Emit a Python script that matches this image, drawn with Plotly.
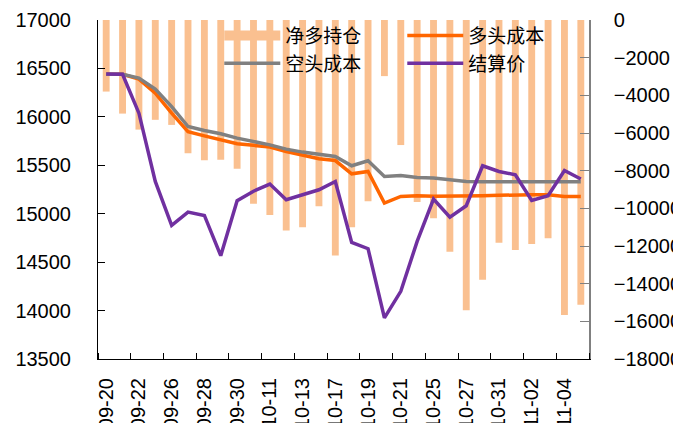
import plotly.graph_objects as go

dates = ["09-20", "09-21", "09-22", "09-23", "09-26", "09-27", "09-28", "09-29", "09-30", "10-10",
         "10-11", "10-12", "10-13", "10-14", "10-17", "10-18", "10-19", "10-20", "10-21", "10-24",
         "10-25", "10-26", "10-27", "10-28", "10-31", "11-01", "11-02", "11-03", "11-04", "11-07"]

net_long = [-3800, -4970, -5820, -5300, -5570, -7070, -7450, -7420, -7900, -9760,
            -10350, -11180, -11000, -9890, -12510, -11000, -9620, -2980, -6640, -9670,
            -10520, -12300, -15410, -13790, -11830, -12210, -11890, -11590, -15660, -15120]

long_cost = [16440, 16440, 16390, 16244, 16038, 15848, 15804, 15763, 15722, 15706,
             15688, 15642, 15601, 15567, 15549, 15412, 15436, 15110, 15178, 15185,
             15180, 15180, 15180, 15185, 15190, 15196, 15196, 15196, 15178, 15178]

short_cost = [16440, 16440, 16400, 16286, 16106, 15900, 15859, 15825, 15780, 15747,
              15711, 15667, 15636, 15615, 15591, 15495, 15546, 15384, 15395, 15374,
              15368, 15350, 15333, 15330, 15330, 15330, 15330, 15330, 15330, 15330]

settle = [16443, 16440, 16038, 15333, 14879, 15017, 14982, 14567, 15134, 15232,
          15306, 15144, 15196, 15247, 15333, 14704, 14639, 13925, 14199, 14714,
          15151, 14964, 15082, 15495, 15436, 15402, 15137, 15185, 15446, 15358]

idx = list(range(len(dates)))
tick_idx = idx[::2]
tick_text = dates[::2]

FONT = "Liberation Sans, Arial, sans-serif"
CJK = "Noto Sans CJK SC, sans-serif"
BAR_COLOR = "#FAC090"

fig = go.Figure()
# legend-only entry giving the wide rectangular swatch of the bar series
fig.add_trace(go.Scatter(x=[None], y=[None], name="净多持仓", mode="lines",
                         line=dict(color=BAR_COLOR, width=12), legendgroup="net",
                         hoverinfo="skip", yaxis="y"))
fig.add_trace(go.Bar(x=idx, y=net_long, name="净多持仓", marker_color=BAR_COLOR,
                     marker_line_width=0, yaxis="y", legendgroup="net", showlegend=False))
fig.add_trace(go.Scatter(x=idx, y=long_cost, name="多头成本", mode="lines",
                         line=dict(color="#FF6600", width=3.5), yaxis="y2"))
fig.add_trace(go.Scatter(x=idx, y=short_cost, name="空头成本", mode="lines",
                         line=dict(color="#808080", width=3.5), yaxis="y2"))
fig.add_trace(go.Scatter(x=idx, y=settle, name="结算价", mode="lines",
                         line=dict(color="#7030A0", width=3.5), yaxis="y2"))

# the page body adds an 8px offset, so the figure is 8px smaller and margins shifted
fig.update_layout(
    width=673, height=415,
    margin=dict(l=90, r=92, t=12, b=64, autoexpand=False),
    paper_bgcolor="white", plot_bgcolor="white",
    font=dict(family=FONT, size=20, color="black"),
    bargap=0.58,
    showlegend=True,
    legend=dict(orientation="h", x=0.247, xanchor="left", y=1.01, yanchor="top",
                bgcolor="rgba(0,0,0,0)", font=dict(family=CJK, size=19, color="black"),
                entrywidth=112, entrywidthmode="pixels", itemwidth=56,
                traceorder="normal", tracegroupgap=0),
    xaxis=dict(range=[-0.5, len(dates) - 0.5], tickmode="array", tickvals=tick_idx,
               ticktext=tick_text, tickangle=-90, ticks="", showline=True,
               linecolor="black", linewidth=1, showgrid=False, zeroline=False,
               ticklabelstandoff=10, automargin=False,
               minor=dict(tick0=-0.5, dtick=2, ticks="inside", ticklen=6,
                          tickcolor="black", showgrid=False),
               tickfont=dict(size=20)),
    yaxis=dict(side="right", range=[-18000, 0], dtick=2000, ticks="inside", ticklen=9,
               tickcolor="#808080", showline=True, linecolor="#808080", linewidth=1.5,
               showgrid=False, zeroline=False, ticklabelstandoff=19, automargin=False,
               tickformat="d", tickfont=dict(size=20)),
    yaxis2=dict(side="left", overlaying="y", range=[13500, 17000], dtick=500,
                ticks="inside", ticklen=7, tickcolor="black", showline=True,
                linecolor="black", linewidth=1, showgrid=False, zeroline=False,
                ticklabelstandoff=22, automargin=False,
                tickformat="d", tickfont=dict(size=20)),
)

fig.write_html("out.html")
